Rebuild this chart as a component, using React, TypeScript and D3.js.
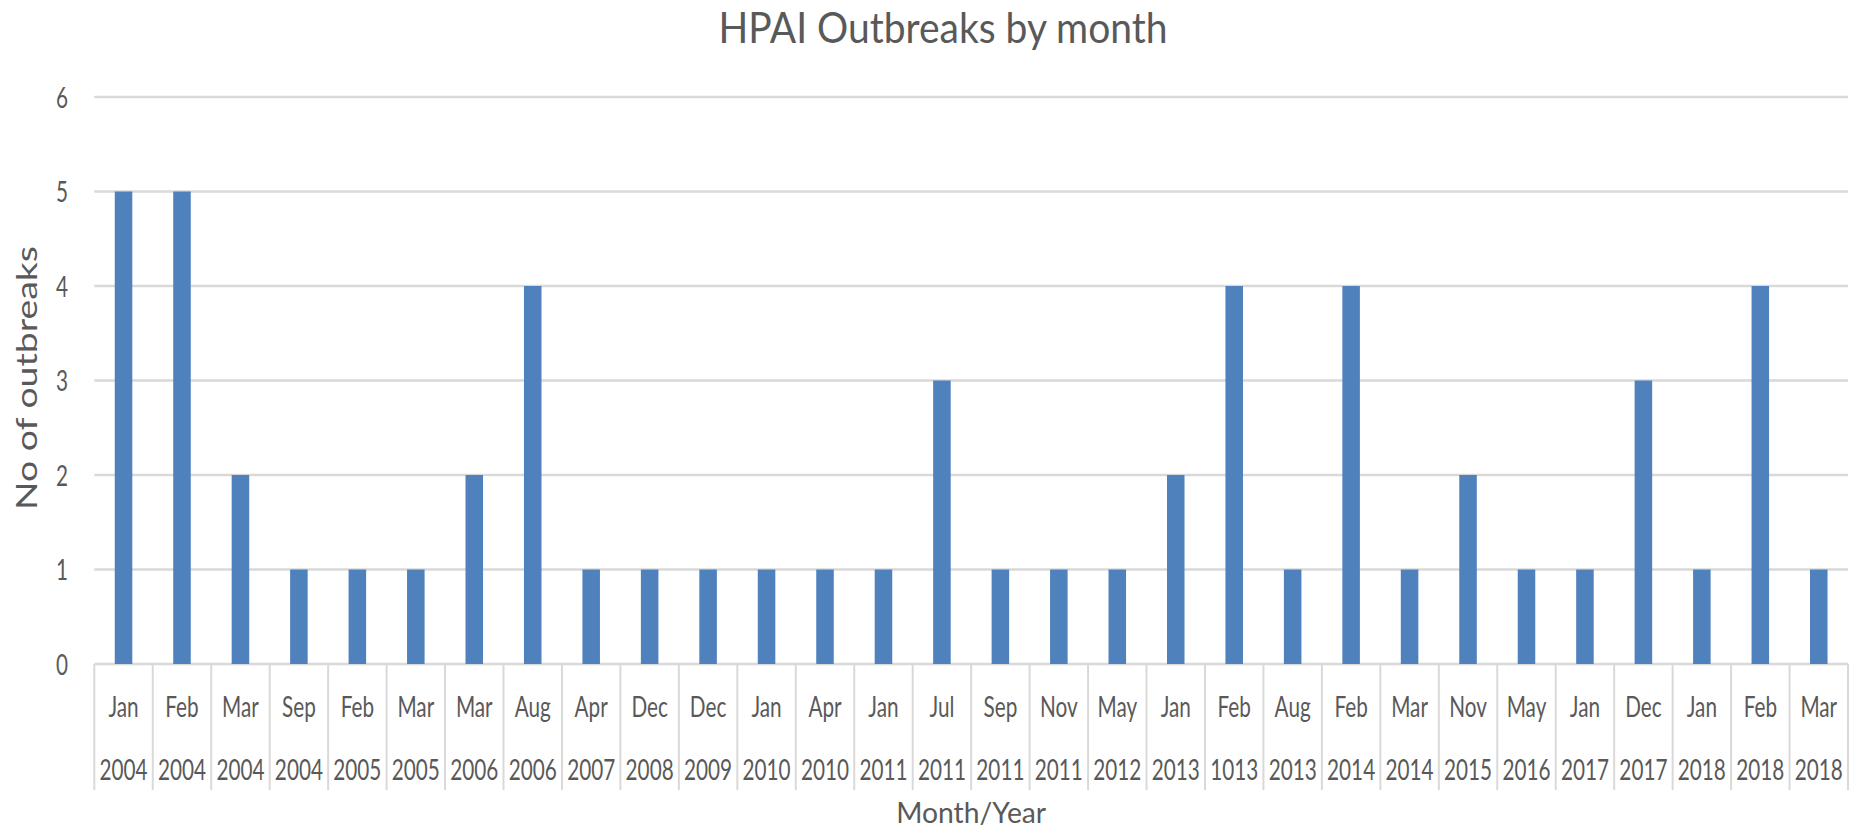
import React from "react";
import * as d3 from "d3";

const months = ["Jan","Feb","Mar","Sep","Feb","Mar","Mar","Aug","Apr","Dec","Dec","Jan","Apr","Jan","Jul","Sep","Nov","May","Jan","Feb","Aug","Feb","Mar","Nov","May","Jan","Dec","Jan","Feb","Mar"];
const years = ["2004","2004","2004","2004","2005","2005","2006","2006","2007","2008","2009","2010","2010","2011","2011","2011","2011","2012","2013","1013","2013","2014","2014","2015","2016","2017","2017","2018","2018","2018"];
const values = [5,5,2,1,1,1,2,4,1,1,1,1,1,1,3,1,1,1,2,4,1,4,1,2,1,1,3,1,4,1];
const yTicks = [0,1,2,3,4,5,6];

const W = 1857, H = 832;
const left = 94.3, right = 1848, top = 97, bottom = 664;
const FONT = "Lato, 'Open Sans', sans-serif";
const TXT = "#595959";
const GRID = "#d9d9d9";
const SX = 0.715;

export default function App() {
  const idx = values.map((_, i) => String(i));
  const x = d3.scaleBand<string>().domain(idx).range([left, right]).paddingInner(0.7).paddingOuter(0.35);
  const y = d3.scaleLinear().domain([0, 6]).range([bottom, top]);
  const step = x.step();
  const boundaries = d3.range(values.length + 1).map((i) => left + i * step);

  return (
    <svg width={W} height={H} style={{ position: "absolute", left: 0, top: 0, background: "#fff" }}>
      <text x={943} y={43} textAnchor="middle" fontFamily={FONT} fontSize={42} fill={TXT} textLength={449} lengthAdjust="spacingAndGlyphs">
        HPAI Outbreaks by month
      </text>
      {yTicks.map((t) => (
        <line key={"g" + t} x1={left} x2={right} y1={y(t)} y2={y(t)} stroke={GRID} strokeWidth={2.5} />
      ))}
      {yTicks.map((t) => (
        <g key={"yl" + t} transform={`translate(68,${y(t) + 10.5}) scale(${SX},1)`}>
          <text textAnchor="end" fontFamily={FONT} fontSize={29} fill={TXT}>{t}</text>
        </g>
      ))}
      {values.map((v, i) => (
        <rect key={"b" + i} x={x(String(i))} y={y(v)} width={x.bandwidth()} height={y(0) - y(v)} fill="#4f81bd" />
      ))}
      {boundaries.map((bx, i) => (
        <line key={"t" + i} x1={bx} x2={bx} y1={bottom} y2={790} stroke={GRID} strokeWidth={2} />
      ))}
      {months.map((m, i) => {
        const cx = (x(String(i)) as number) + x.bandwidth() / 2;
        return (
          <g key={"m" + i}>
            <g transform={`translate(${cx},717) scale(${SX},1)`}>
              <text textAnchor="middle" fontFamily={FONT} fontSize={29} fill={TXT}>{m}</text>
            </g>
            <g transform={`translate(${cx},780) scale(${SX},1)`}>
              <text textAnchor="middle" fontFamily={FONT} fontSize={29} fill={TXT}>{years[i]}</text>
            </g>
          </g>
        );
      })}
      <text x={(left + right) / 2} y={823} textAnchor="middle" fontFamily={FONT} fontSize={29} fill={TXT} textLength={150} lengthAdjust="spacingAndGlyphs">
        Month/Year
      </text>
      <g transform="translate(37,378) rotate(-90)">
        <text textAnchor="middle" fontFamily={FONT} fontSize={29} fill={TXT} textLength={264} lengthAdjust="spacingAndGlyphs">
          No of outbreaks
        </text>
      </g>
    </svg>
  );
}
